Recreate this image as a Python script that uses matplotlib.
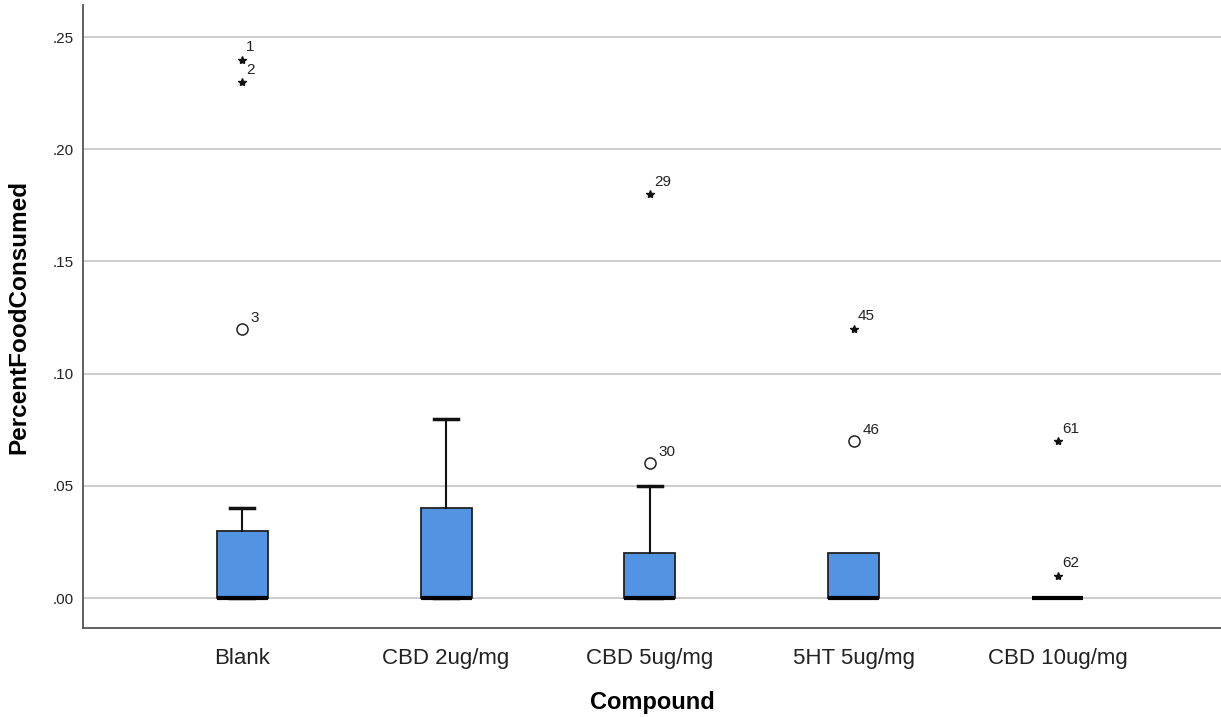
import matplotlib.pyplot as plt

plt.rcParams['font.family'] = ['Liberation Sans', 'DejaVu Sans']

# Group summary values (PercentFoodConsumed by compound)
compounds = ['Blank', 'CBD 2ug/mg', 'CBD 5ug/mg', '5HT 5ug/mg', 'CBD 10ug/mg']
q1 = [0.0, 0.0, 0.0, 0.0, 0.0]
medians = [0.0, 0.0, 0.0, 0.0, 0.0]
q3 = [0.03, 0.04, 0.02, 0.02, 0.0]
whisker_low = [0.0, 0.0, 0.0, 0.0, 0.0]
whisker_high = [0.04, 0.08, 0.05, 0.02, 0.0]

# Outlying cases: (group index, value, case number)
mild_outliers = [(0, 0.12, '3'), (2, 0.06, '30'), (3, 0.07, '46')]
extreme_outliers = [(0, 0.24, '1'), (0, 0.23, '2'), (2, 0.18, '29'),
                    (3, 0.12, '45'), (4, 0.07, '61'), (4, 0.01, '62')]

yticks = [0.0, 0.05, 0.10, 0.15, 0.20, 0.25]
ytick_labels = ['.00', '.05', '.10', '.15', '.20', '.25']

fig = plt.figure(figsize=(12.21, 7.17), dpi=100)
ax = fig.add_axes([0.068, 0.124, 0.932, 0.869])

positions = list(range(1, len(compounds) + 1))
stats = []
for i in range(len(compounds)):
    stats.append(dict(med=medians[i], q1=q1[i], q3=q3[i],
                      whislo=whisker_low[i], whishi=whisker_high[i], fliers=[]))

# no cap where the whisker doesn't reach past the box
caps = [0.12 if whisker_high[i] > q3[i] else 0.0 for i in range(len(compounds))]

ax.bxp(stats, positions=positions, widths=0.25, patch_artist=True,
       showfliers=False,
       boxprops=dict(facecolor='#5294e2', edgecolor='#222222', linewidth=1.3),
       medianprops=dict(color='black', linewidth=3, solid_capstyle='butt'),
       whiskerprops=dict(color='#111111', linewidth=1.5),
       capprops=dict(color='#111111', linewidth=2.5),
       capwidths=caps, zorder=3)

for g, v, lab in mild_outliers:
    ax.plot(positions[g], v, marker='o', markersize=8, markerfacecolor='white',
            markeredgecolor='#222222', markeredgewidth=1.1, zorder=4)
    ax.annotate(lab, (positions[g], v), xytext=(6, 5), textcoords='offset points',
                fontsize=11, color='#222222')

for g, v, lab in extreme_outliers:
    ax.plot(positions[g], v, marker='*', markersize=6, color='#111111', zorder=4)
    ax.annotate(lab, (positions[g], v), xytext=(3, 6), textcoords='offset points',
                fontsize=11, color='#222222')

ax.set_xlim(0.22, 5.8)
ax.set_ylim(-0.0134, 0.2643)
ax.set_yticks(yticks)
ax.set_yticklabels(ytick_labels)
ax.set_xticks(positions)
ax.set_xticklabels(compounds)
ax.tick_params(axis='both', length=0, colors='#222222')
ax.tick_params(axis='x', pad=14, labelsize=16)
ax.tick_params(axis='y', pad=7, labelsize=11)

ax.yaxis.grid(True, color='#c8c8c8', linewidth=1.3)
ax.set_axisbelow(True)
for side in ['top', 'right']:
    ax.spines[side].set_visible(False)
for side in ['left', 'bottom']:
    ax.spines[side].set_color('#555555')
    ax.spines[side].set_linewidth(1.3)

ax.set_ylabel('PercentFoodConsumed', fontsize=17.5, fontweight='bold', labelpad=16)
ax.set_xlabel('Compound', fontsize=17, fontweight='bold', labelpad=16)

fig.savefig('out.png', dpi=100, facecolor='white')
